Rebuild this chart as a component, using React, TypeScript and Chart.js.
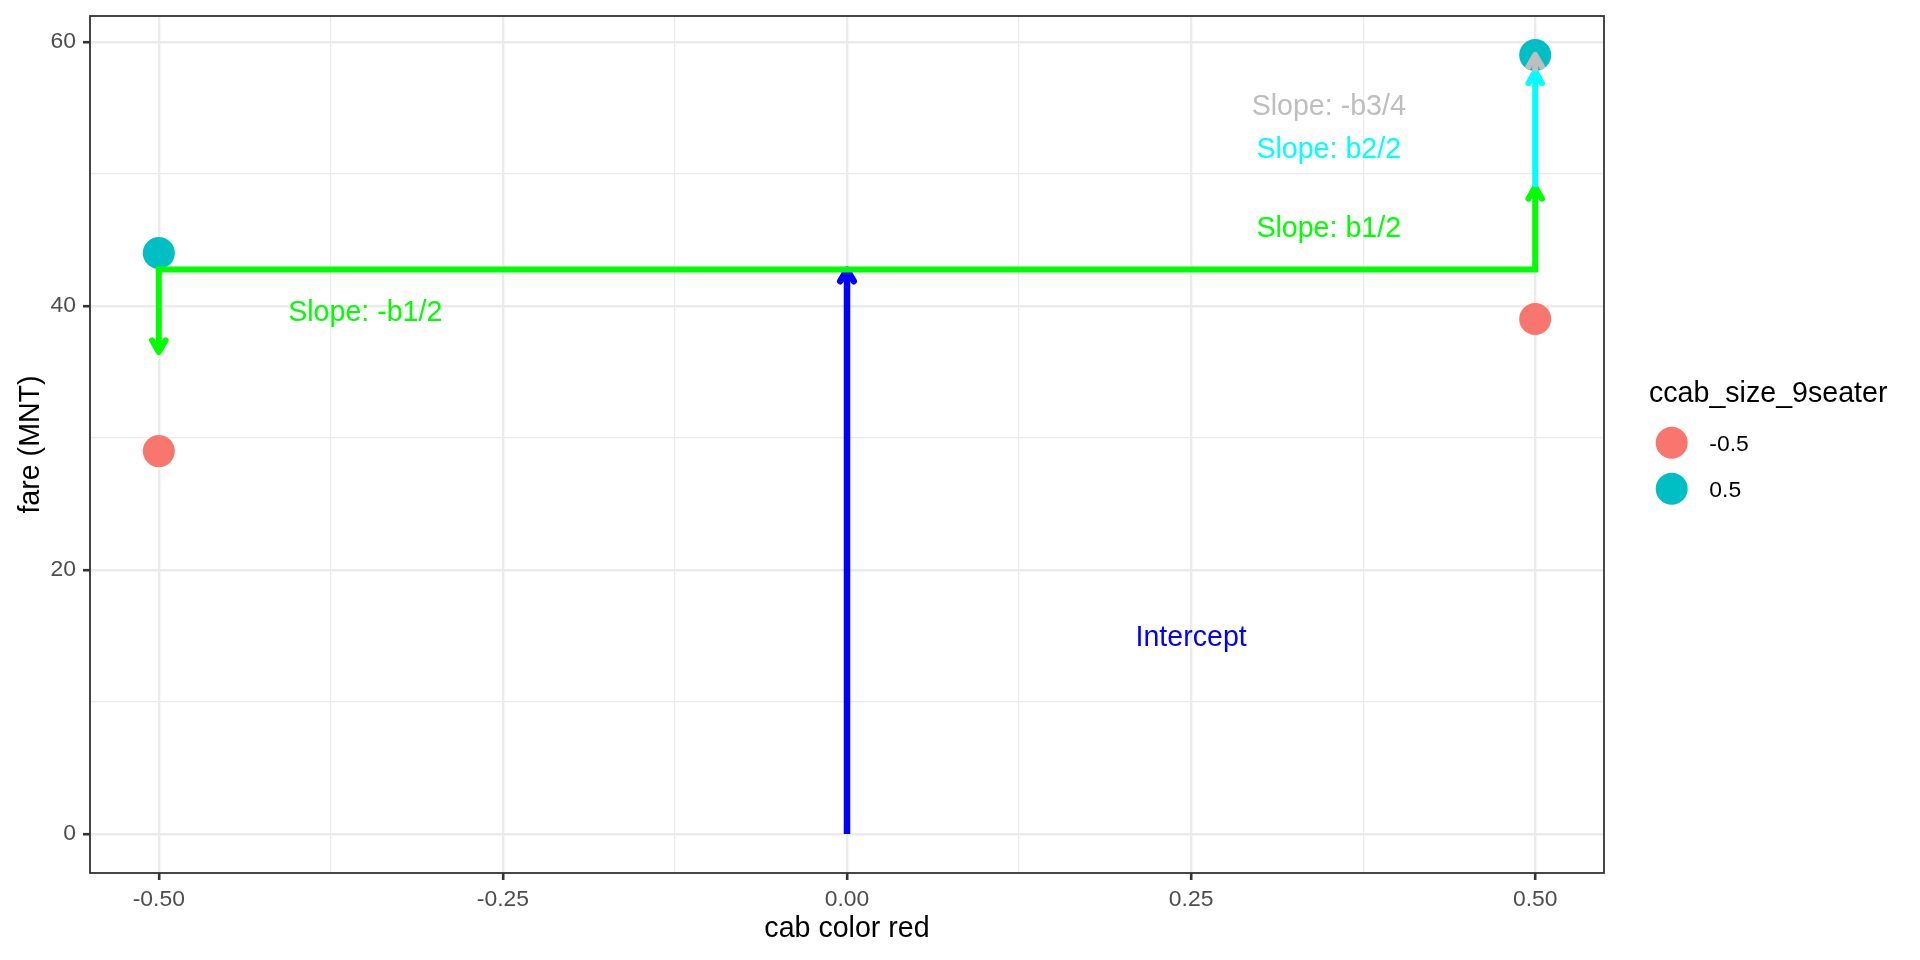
import React, { useEffect, useRef } from 'react';
import { Chart, registerables } from 'chart.js';

Chart.register(...registerables);

// ---------- data ----------
const cabColorRed = [-0.5, 0.5];
const fareSizeNeg = [29, 39]; // ccab_size_9seater = -0.5
const fareSizePos = [44, 59]; // ccab_size_9seater = 0.5
const sizeLevels = ['-0.5', '0.5'];
const legendTitle = 'ccab_size_9seater';

const xMajorTicks = [-0.5, -0.25, 0, 0.25, 0.5];
const xMinorTicks = [-0.375, -0.125, 0.125, 0.375];
const xTickLabels = ['-0.50', '-0.25', '0.00', '0.25', '0.50'];
const yMajorTicks = [0, 20, 40, 60];
const yMinorTicks = [10, 30, 50];
const yTickLabels = ['0', '20', '40', '60'];
const xRange = [-0.55, 0.55];
const yRange = [-2.95, 61.95];
const xTitle = 'cab color red';
const yTitle = 'fare (MNT)';

const interceptValue = 42.75;
const halfB1 = 6.25;
const halfB2 = 8.75;
const quarterB3 = 1.25;

// segments: intercept, green horizontal, green down, green up, cyan, grey
const segFromX = [0, -0.5, -0.5, 0.5, 0.5, 0.5];
const segFromY = [0, interceptValue, interceptValue, interceptValue, interceptValue + halfB1, interceptValue + halfB1 + halfB2];
const segToX = [0, 0.5, -0.5, 0.5, 0.5, 0.5];
const segToY = [interceptValue, interceptValue, interceptValue - halfB1, interceptValue + halfB1, interceptValue + halfB1 + halfB2, interceptValue + halfB1 + halfB2 + quarterB3];

const annotationTexts = ['Intercept', 'Slope: -b1/2', 'Slope: b1/2', 'Slope: b2/2', 'Slope: -b3/4'];
const annotationX = [0.25, -0.35, 0.35, 0.35, 0.35];
const annotationY = [15, 39.6, 46, 52, 55.25];

// ---------- styles ----------
const FONT = "'Liberation Sans', Arial, Helvetica, sans-serif";
const pointColors = ['#F8766D', '#00BFC4'];
const segColors = ['#0000FF', '#00FF00', '#00FF00', '#00FF00', '#00FFFF', '#BEBEBE'];
const segWidths = [6.5, 6, 6, 6, 6, 6];
const segArrow = [true, false, true, true, true, true];
const segCap = ['butt', 'square', 'butt', 'butt', 'butt', 'butt'];
const segOrder = [6, 5, 4, 3, 2, 1];
const annotationColors = ['#0000FF', '#00FF00', '#00FF00', '#00FFFF', '#BEBEBE'];

const isIn = (arr: number[], v: number) => arr.some((a) => Math.abs(a - v) < 1e-9);

const arrowPlugin = {
  id: 'arrowHeads',
  afterDatasetDraw(chart: any, args: any) {
    const ds = chart.data.datasets[args.index];
    if (!ds.arrowHead) return;
    const pts = args.meta.data;
    if (pts.length < 2) return;
    const a = pts[pts.length - 2];
    const b = pts[pts.length - 1];
    const ang = Math.atan2(b.y - a.y, b.x - a.x);
    const L = 13.5;
    const phi = Math.PI / 6;
    const ctx = chart.ctx;
    ctx.save();
    ctx.strokeStyle = ds.borderColor;
    ctx.lineWidth = ds.borderWidth;
    ctx.lineJoin = 'round';
    ctx.lineCap = 'round';
    ctx.beginPath();
    ctx.moveTo(b.x - L * Math.cos(ang - phi), b.y - L * Math.sin(ang - phi));
    ctx.lineTo(b.x, b.y);
    ctx.lineTo(b.x - L * Math.cos(ang + phi), b.y - L * Math.sin(ang + phi));
    ctx.stroke();
    ctx.restore();
  },
};

const annotationPlugin = {
  id: 'annotations',
  afterDatasetsDraw(chart: any) {
    const ctx = chart.ctx;
    const xs = chart.scales.x;
    const ys = chart.scales.y;
    const size = 28.6;
    ctx.save();
    ctx.font = `${size}px ${FONT}`;
    ctx.textAlign = 'center';
    ctx.textBaseline = 'alphabetic';
    annotationTexts.forEach((t, i) => {
      ctx.fillStyle = annotationColors[i];
      const px = xs.getPixelForValue(annotationX[i]);
      const py = ys.getPixelForValue(annotationY[i]);
      ctx.fillText(t, px, py + size * 0.358);
    });
    ctx.restore();
  },
};

const panelPlugin = {
  id: 'panelAndLegend',
  afterDraw(chart: any) {
    const ctx = chart.ctx;
    const { left, top, right, bottom } = chart.chartArea;
    ctx.save();
    ctx.strokeStyle = '#333333';
    ctx.lineWidth = 1.8;
    ctx.strokeRect(left, top, right - left, bottom - top);

    // legend
    ctx.fillStyle = '#000000';
    ctx.font = `28.6px ${FONT}`;
    ctx.textAlign = 'left';
    ctx.textBaseline = 'alphabetic';
    ctx.fillText(legendTitle, 1649, 402);
    const keyX = 1671.7;
    const keyY = [442.7, 488.7];
    sizeLevels.forEach((lab, i) => {
      ctx.fillStyle = pointColors[i];
      ctx.beginPath();
      ctx.arc(keyX, keyY[i], 16, 0, Math.PI * 2);
      ctx.fill();
      ctx.fillStyle = '#000000';
      ctx.font = `22.9px ${FONT}`;
      ctx.fillText(lab, 1709.3, keyY[i] + 8.3);
    });
    ctx.restore();
  },
};

export default function App() {
  const ref = useRef<HTMLCanvasElement>(null);

  useEffect(() => {
    if (!ref.current) return;
    Chart.defaults.font.family = FONT;

    const pointDatasets = [fareSizeNeg, fareSizePos].map((vals, i) => ({
      label: sizeLevels[i],
      data: cabColorRed.map((x, j) => ({ x, y: vals[j] })),
      backgroundColor: pointColors[i],
      borderWidth: 0,
      pointRadius: 16,
      pointHoverRadius: 16,
      showLine: false,
      order: 10,
    }));

    const segDatasets = segFromX.map((fx, i) => ({
      label: 'seg' + i,
      data: [
        { x: fx, y: segFromY[i] },
        { x: segToX[i], y: segToY[i] },
      ],
      showLine: true,
      borderColor: segColors[i],
      backgroundColor: segColors[i],
      borderWidth: segWidths[i],
      borderCapStyle: segCap[i],
      pointRadius: 0,
      pointHoverRadius: 0,
      fill: false,
      tension: 0,
      order: segOrder[i],
      arrowHead: segArrow[i],
    }));

    const gridOpts = (major: number[]) => ({
      color: '#EBEBEB',
      lineWidth: (c: any) => (c.tick && isIn(major, c.tick.value) ? 2.4 : 1.2),
      drawTicks: true,
      tickLength: 7,
      tickWidth: 2.6,
      tickColor: (c: any) => (c.tick && isIn(major, c.tick.value) ? '#333333' : 'rgba(0,0,0,0)'),
    });

    const chart = new Chart(ref.current, {
      type: 'scatter',
      data: { datasets: [...pointDatasets, ...segDatasets] as any },
      plugins: [arrowPlugin, annotationPlugin, panelPlugin],
      options: {
        responsive: false,
        devicePixelRatio: 1,
        animation: false,
        events: [],
        layout: { padding: { top: 15, right: 316, bottom: 0, left: 0 } },
        plugins: {
          legend: { display: false },
          tooltip: { enabled: false },
          title: { display: false },
        },
        scales: {
          x: {
            type: 'linear',
            min: xRange[0],
            max: xRange[1],
            afterBuildTicks: (s: any) => {
              s.ticks = [...xMajorTicks, ...xMinorTicks].sort((a, b) => a - b).map((v) => ({ value: v }));
            },
            afterFit: (s: any) => {
              s.height = 87;
              s.paddingLeft = 0;
              s.paddingRight = 0;
              s.paddingTop = 0;
              s.paddingBottom = 0;
            },
            ticks: {
              autoSkip: false,
              maxRotation: 0,
              minRotation: 0,
              padding: 5.5,
              color: '#4D4D4D',
              font: { size: 22.9, family: FONT },
              callback: (v: any) => {
                const i = xMajorTicks.findIndex((m) => Math.abs(m - v) < 1e-9);
                return i >= 0 ? xTickLabels[i] : '';
              },
            },
            grid: gridOpts(xMajorTicks) as any,
            border: { display: false },
            title: {
              display: true,
              text: xTitle,
              color: '#000000',
              font: { size: 28.6, family: FONT },
              padding: { top: 0, bottom: 13.5 },
            },
          },
          y: {
            type: 'linear',
            min: yRange[0],
            max: yRange[1],
            afterBuildTicks: (s: any) => {
              s.ticks = [...yMajorTicks, ...yMinorTicks].sort((a, b) => a - b).map((v) => ({ value: v }));
            },
            afterFit: (s: any) => {
              s.width = 90;
              s.paddingLeft = 0;
              s.paddingRight = 0;
              s.paddingTop = 0;
              s.paddingBottom = 0;
            },
            ticks: {
              autoSkip: false,
              padding: 7,
              color: '#4D4D4D',
              font: { size: 22.9, family: FONT },
              callback: (v: any) => {
                const i = yMajorTicks.findIndex((m) => Math.abs(m - v) < 1e-9);
                return i >= 0 ? yTickLabels[i] : '';
              },
            },
            grid: gridOpts(yMajorTicks) as any,
            border: { display: false },
            title: {
              display: true,
              text: yTitle,
              color: '#000000',
              font: { size: 28.6, family: FONT },
              padding: { top: 14, bottom: 0 },
            },
          },
        },
      } as any,
    });

    return () => chart.destroy();
  }, []);

  return (
    <div style={{ position: 'fixed', left: 0, top: 0, width: 1920, height: 960, background: '#ffffff' }}>
      <canvas ref={ref} width={1920} height={960} style={{ display: 'block', width: 1920, height: 960 }} />
    </div>
  );
}
